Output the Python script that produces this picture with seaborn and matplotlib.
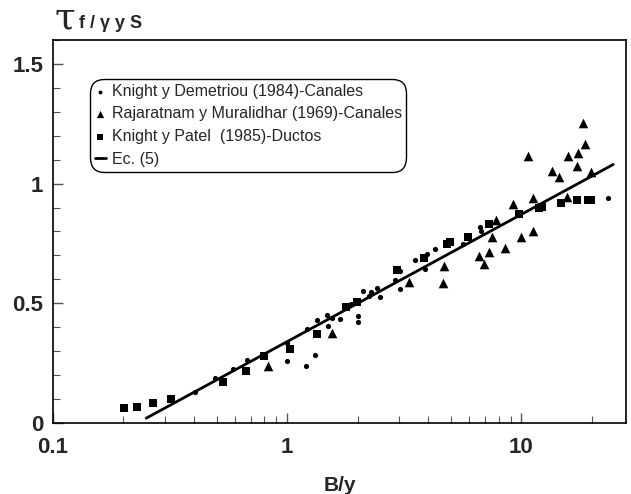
import matplotlib
matplotlib.use("Agg")
import matplotlib.pyplot as plt
import seaborn as sns
from matplotlib.ticker import FixedLocator, FixedFormatter, MultipleLocator, NullFormatter

sns.set_theme(style="ticks")
plt.rcParams['font.family'] = ['Liberation Sans', 'DejaVu Sans']

# Knight y Demetriou (1984) - canales
kd_x = [0.404, 0.492, 0.586, 0.673, 0.997, 1.00, 1.20, 1.21, 1.32, 1.34, 1.48, 1.50,
        1.55, 1.68, 1.88, 2.00, 2.00, 2.11, 2.27, 2.41, 2.50, 2.24, 2.89, 3.02, 3.04,
        3.50, 3.97, 3.89, 4.29, 5.63, 6.64, 6.73, 23.5]
kd_y = [0.128, 0.190, 0.227, 0.262, 0.258, 0.333, 0.239, 0.392, 0.283, 0.431, 0.450, 0.405,
        0.440, 0.433, 0.496, 0.446, 0.422, 0.553, 0.548, 0.565, 0.527, 0.529, 0.596, 0.561, 0.633,
        0.681, 0.706, 0.645, 0.725, 0.746, 0.817, 0.802, 0.940]

# Rajaratnam y Muralidhar (1969) - canales
rm_x = [0.825, 1.56, 3.30, 4.66, 4.64, 6.62, 6.95, 7.26, 7.49, 7.82, 8.50, 9.18, 10.0,
        10.7, 11.2, 11.2, 13.5, 14.5, 15.6, 15.8, 17.3, 17.4, 18.3, 18.8, 19.9]
rm_y = [0.238, 0.376, 0.589, 0.654, 0.583, 0.696, 0.665, 0.715, 0.776, 0.849, 0.729, 0.915, 0.777,
        1.115, 0.939, 0.801, 1.051, 1.029, 0.946, 1.114, 1.075, 1.130, 1.254, 1.165, 1.047]

# Knight y Patel (1985) - ductos
kp_x = [0.201, 0.229, 0.268, 0.319, 0.533, 0.666, 0.798, 1.03, 1.34, 1.79, 1.99, 2.94,
        3.85, 4.81, 4.97, 5.94, 7.30, 9.80, 11.9, 12.25, 14.8, 17.3, 19.3, 19.8]
kp_y = [0.062, 0.067, 0.083, 0.100, 0.172, 0.218, 0.279, 0.310, 0.371, 0.485, 0.505, 0.638,
        0.690, 0.746, 0.755, 0.779, 0.832, 0.874, 0.899, 0.904, 0.919, 0.932, 0.932, 0.932]

# Ec. (5), straight on the semi-log axes
eq_x = [0.25, 24.7]
eq_y = [0.02, 1.08]

labels = ["Knight y Demetriou (1984)-Canales",
          "Rajaratnam y Muralidhar (1969)-Canales",
          "Knight y Patel  (1985)-Ductos",
          "Ec. (5)"]

W, H = 631, 494
fig = plt.figure(figsize=(W / 100, H / 100), dpi=100)
ax = fig.add_axes([53 / W, 1 - 423 / H, (626 - 53) / W, (423 - 40) / H])

sns.scatterplot(x=kd_x, y=kd_y, ax=ax, marker='o', s=14, color='black',
                linewidth=0, label=labels[0])
sns.scatterplot(x=rm_x, y=rm_y, ax=ax, marker='^', s=48, color='black',
                linewidth=0, label=labels[1])
sns.scatterplot(x=kp_x, y=kp_y, ax=ax, marker='s', s=28, color='black',
                linewidth=0, label=labels[2])
sns.lineplot(x=eq_x, y=eq_y, ax=ax, color='black', lw=2, label=labels[3])

ax.set_xscale('log')
ax.set_xlim(0.1, 28)
ax.set_ylim(0, 1.6)

ax.xaxis.set_major_locator(FixedLocator([0.1, 1, 10]))
ax.xaxis.set_major_formatter(FixedFormatter(['0.1', '1', '10']))
minor_x = [m * d for d in (0.1, 1, 10) for m in range(2, 10) if m * d < 28]
ax.xaxis.set_minor_locator(FixedLocator(minor_x))
ax.xaxis.set_minor_formatter(NullFormatter())

ax.yaxis.set_major_locator(FixedLocator([0, 0.5, 1, 1.5]))
ax.yaxis.set_major_formatter(FixedFormatter(['0', '0.5', '1', '1.5']))
ax.yaxis.set_minor_locator(MultipleLocator(0.1))

ax.tick_params(which='both', direction='in', color='#555555')
ax.tick_params(which='major', length=7, width=1)
ax.tick_params(which='minor', length=5, width=0.8)
ax.tick_params(axis='x', which='major', pad=10, labelsize=16)
ax.tick_params(axis='y', which='major', pad=7, labelsize=16)
for lab in ax.get_xticklabels() + ax.get_yticklabels():
    lab.set_fontweight('bold')

for sp in ax.spines.values():
    sp.set_color('black')
    sp.set_linewidth(1.2)

ax.set_xlabel('B/y', fontsize=15, fontweight='bold', labelpad=13)
ax.set_ylabel('')

# axis title above the plot
fig.text(54 / W, 1 - 28 / H, '\u03c4', fontsize=27, va='baseline', ha='left',
         family=['DejaVu Serif'])
fig.text(79 / W, 1 - 28 / H, 'f / \u03b3 y S', fontsize=13, fontweight='bold',
         va='baseline', ha='left')

leg = ax.legend(loc='upper left', bbox_to_anchor=(90 / W, 1 - 79 / H),
                bbox_transform=fig.transFigure, borderaxespad=0,
                fontsize=11.5, handlelength=0.7, handletextpad=0.35,
                labelspacing=0.48, borderpad=0.3, frameon=True,
                fancybox=True, markerscale=0.75)
frame = leg.get_frame()
frame.set_edgecolor('black')
frame.set_linewidth(1.0)
frame.set_alpha(1)
frame.set_boxstyle('round', pad=0, rounding_size=0.9)

fig.savefig('out.png', dpi=100, facecolor='white')
